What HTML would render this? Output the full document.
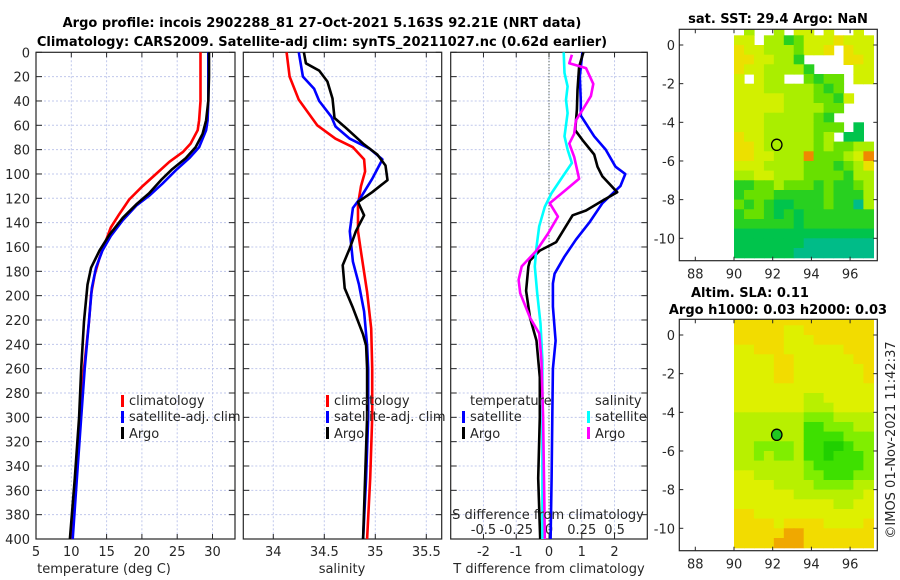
<!DOCTYPE html>
<html><head><meta charset="utf-8">
<style>
html,body{margin:0;padding:0;background:#fff;}
svg{display:block;font-family:"DejaVu Sans","Liberation Sans",sans-serif;}
.t{fill:#262626;font-size:13px;}
.b{font-weight:bold;fill:#000;font-size:13px;}
</style></head>
<body>
<svg id="chart" width="900" height="580" viewBox="0 0 900 580" xmlns="http://www.w3.org/2000/svg">
<text class="b" x="322" y="27" text-anchor="middle">Argo profile: incois 2902288_81 27-Oct-2021 5.163S 92.21E (NRT data)</text>
<text class="b" x="322" y="46" text-anchor="middle">Climatology: CARS2009. Satellite-adj clim: synTS_20211027.nc (0.62d earlier)</text>
<g id="p1"></g>
<g id="p2"></g>
<g id="p3"></g>
<g id="m1"></g>
<g id="m2"></g>
<text class="t" x="104" y="573" text-anchor="middle">temperature (deg C)</text>
<text class="t" x="342" y="573" text-anchor="middle">salinity</text>
<text class="t" x="549" y="573" text-anchor="middle">T difference from climatology</text>
<text class="t" x="548" y="519" text-anchor="middle">S difference from climatology</text>
<text class="b" x="778" y="23" text-anchor="middle">sat. SST: 29.4 Argo: NaN</text>
<text class="b" x="691" y="297">Altim. SLA: 0.11</text>
<text class="b" x="778" y="314" text-anchor="middle">Argo h1000: 0.03 h2000: 0.03</text>
<text class="t" x="0" y="0" transform="translate(895,440) rotate(-90)" text-anchor="middle">©IMOS 01-Nov-2021 11:42:37</text>
<g>
<rect x="121" y="395" width="3" height="12" fill="#f00"/>
<text class="t" x="129" y="405">climatology</text>
<rect x="121" y="411" width="3" height="12" fill="#00f"/>
<text class="t" x="129" y="421">satellite-adj. clim</text>
<rect x="121" y="427" width="3" height="12" fill="#000"/>
<text class="t" x="129" y="438">Argo</text>
</g>
<g>
<rect x="326" y="395" width="3" height="12" fill="#f00"/>
<text class="t" x="334" y="405">climatology</text>
<rect x="326" y="411" width="3" height="12" fill="#00f"/>
<text class="t" x="334" y="421">satellite-adj. clim</text>
<rect x="326" y="427" width="3" height="12" fill="#000"/>
<text class="t" x="334" y="438">Argo</text>
</g>
<g>
<text class="t" x="470" y="405">temperature</text>
<rect x="462" y="411" width="3" height="12" fill="#00f"/>
<text class="t" x="470" y="421">satellite</text>
<rect x="462" y="427" width="3" height="12" fill="#000"/>
<text class="t" x="470" y="438">Argo</text>
<text class="t" x="595" y="405">salinity</text>
<rect x="587" y="411" width="3" height="12" fill="#0ff"/>
<text class="t" x="595" y="421">satellite</text>
<rect x="587" y="427" width="3" height="12" fill="#f0f"/>
<text class="t" x="595" y="438">Argo</text>
</g>
</svg>
<script>
// ---------- data ----------
const depthTicks = [0,20,40,60,80,100,120,140,160,180,200,220,240,260,280,300,320,340,360,380,400];
const tempTicks = [5,10,15,20,25,30,35];
const salTicks = [34,34.5,35,35.5];
const dTTicks = [-2,-1,0,1,2];
const dSTicks = [-0.5,-0.25,0,0.25,0.5];
const dSTickLabels = ["-0.5","-0.25","0","0.25","0.5"];

const tClimDepth = [0,20,40,56,64,75,82,90,100,110,121,133,144,158,169,183,199,221,260,300,350,400];
const tClimVal   = [28.3,28.3,28.3,28.1,27.9,26.9,25.8,23.9,22.0,20.1,18.2,16.8,15.6,14.7,14.0,13.3,12.8,12.5,11.8,11.2,10.6,10.0];
const tSatDepth  = [0,20,40,56,64,78,87,97,108,118,126,138,151,163,177,194,221,260,300,350,400];
const tSatVal    = [29.4,29.4,29.4,29.3,29.1,28.1,26.7,24.8,22.9,21.0,19.2,17.3,15.6,14.4,13.5,12.9,12.5,11.9,11.4,10.8,10.2];
const tArgoDepth = [0,20,40,56,67,78,87,96,105,116,125,136,150,163,177,191,221,260,300,350,400];
const tArgoVal   = [29.5,29.5,29.4,29.1,28.6,27.6,26.2,24.3,22.7,21.0,19.2,17.3,15.4,14.0,12.8,12.3,11.8,11.4,11.1,10.5,9.8];

const sClimDepth = [0,20,39,60,71,78,88,98,110,125,147,164,197,227,260,300,350,400];
const sClimVal   = [34.13,34.16,34.25,34.43,34.61,34.78,34.89,34.90,34.86,34.83,34.83,34.86,34.92,34.96,34.97,34.97,34.95,34.92];
const sSatDepth  = [0,20,30,40,53,61,71,79,88,104,119,128,147,172,191,213,241,260,300,350,400];
const sSatVal    = [34.25,34.29,34.40,34.45,34.57,34.61,34.75,34.94,35.07,34.97,34.86,34.78,34.75,34.78,34.84,34.89,34.92,34.93,34.93,34.91,34.88];
const sArgoDepth = [0,9,15,24,38,54,62,75,84,93,105,115,123,134,147,161,175,194,210,232,241,260,300,350,400];
const sArgoVal   = [34.30,34.32,34.45,34.53,34.58,34.60,34.71,34.88,35.02,35.10,35.12,34.97,34.83,34.89,34.81,34.75,34.68,34.70,34.78,34.88,34.91,34.92,34.92,34.90,34.88];

const dTSatDepth  = [0,20,40,52,69,80,94,100,110,124,140,154,168,182,190,209,237,260,300,350,400];
const dTSatVal    = [1.02,0.94,0.97,0.97,1.38,1.73,2.03,2.33,2.18,1.63,1.23,0.82,0.47,0.17,0.12,0.12,0.2,0.12,0.1,0.08,0.05];
const dTArgoDepth = [0,12,31,47,64,72,84,94,102,115,122,130,134,156,163,171,176,196,218,237,267,300,350,400];
const dTArgoVal   = [1.05,0.92,0.87,0.85,0.8,1.02,1.38,1.48,1.63,2.08,1.63,1.13,0.72,0.22,-0.28,-0.58,-0.63,-0.7,-0.58,-0.38,-0.28,-0.28,-0.33,-0.27];
const dSSatDepth  = [0,17,28,39,50,69,80,91,102,116,127,143,160,176,198,223,253,300,350,400];
const dSSatVal    = [0.112,0.118,0.142,0.13,0.142,0.118,0.142,0.175,0.105,0.018,-0.032,-0.075,-0.095,-0.108,-0.09,-0.065,-0.05,-0.05,-0.05,-0.05];
const dSArgoDepth = [2,9,13,26,36,47,56,67,75,86,104,113,124,135,149,163,176,187,198,218,231,253,300,350,400];
const dSArgoVal   = [0.175,0.155,0.282,0.338,0.32,0.258,0.205,0.192,0.155,0.192,0.23,0.13,0.005,0.068,-0.008,-0.095,-0.208,-0.232,-0.22,-0.145,-0.075,-0.058,-0.045,-0.038,-0.032];

const mapLonTicks = [88,90,92,94,96];
const mapLatTicks = [0,-2,-4,-6,-8,-10];
const argoLon = 92.21, argoLat = -5.163;
const sstRows = [
".5..5.66.6..6.",
"66.55346667666",
"7665554667.766",
"7766553....776",
"76655553....66",
"6.655..4344.66",
"66655555434...",
"666665554436..",
"66666555544...",
"6665555543....",
"66655555444.2.",
"7665555545.22.",
"77655555454455",
"77665558444568",
"66655554443457",
"55665554444355",
"33445444343345",
"34443333343335",
"43432233343315",
"34432323333333",
"33333323333333",
"22222222222222",
"22222221111111",
"22222211111111"];
const slaRows = [
"77777777777777",
"77777667777777",
"77777666777777",
"66777666666777",
"66667766666677",
"66667766666667",
"66667766666667",
"66666666666666",
"66666665566666",
"66666665556666",
"55555554445555",
"55555553344455",
"55555553333444",
"55444453322344",
"55454453323334",
"55555554333334",
"66555554433344",
"66665555444455",
"66666655555556",
"66666666665566",
"77666666666666",
"77776777766667",
"77777887777777",
"77778887777777"];

// ---------- rendering ----------
const NS = "http://www.w3.org/2000/svg";
function mk(tag, attrs, parent){ const e=document.createElementNS(NS,tag); for(const k in attrs) e.setAttribute(k,attrs[k]); parent.appendChild(e); return e; }
const Y0 = 52.3, Y1 = 539;
function yD(d){ return Y0 + (d/400)*(Y1-Y0); }
function scaleX(x0,x1,v0,v1){ return v => x0 + (v-v0)/(v1-v0)*(x1-x0); }

const panels = [
 {id:"p1", x0:36, x1:235, v0:5, v1:5+199/7.06, ticks:tempTicks, labels:tempTicks.map(String), showY:true},
 {id:"p2", x0:243.3, x1:441.7, v0:33.706, v1:35.651, ticks:salTicks, labels:salTicks.map(String), showY:false},
 {id:"p3", x0:450.7, x1:647.3, v0:-3, v1:3, ticks:dTTicks, labels:dTTicks.map(String), showY:false}
];
panels.forEach(p=>{
  const g = document.getElementById(p.id);
  const sx = scaleX(p.x0,p.x1,p.v0,p.v1); p.sx = sx;
  p.ticks.forEach((v,i)=>{
    const x = sx(v);
    if (x < p.x0-0.5 || x > p.x1+0.5) return;
    if (x>p.x0+1 && x<p.x1-1) {
      const gl = mk("line",{x1:x,x2:x,y1:Y0,y2:Y1,stroke:"#c0c8ec","stroke-width":1,"stroke-dasharray":"2,2"},g);
      
      
    }
    const tb = mk("line",{x1:x,x2:x,y1:Y1,y2:Y1-5,stroke:"#262626"},g);
    
    
    const tt = mk("line",{x1:x,x2:x,y1:Y0,y2:Y0+5,stroke:"#262626"},g);
    
    
    const lb = mk("text",{x:x,y:556,"text-anchor":"middle",class:"t"},g);
    lb.textContent = p.labels[i];
    
    
  });
  depthTicks.forEach(d=>{
    const y = yD(d);
    if (d>0 && d<400) {
      const gl = mk("line",{x1:p.x0,x2:p.x1,y1:y,y2:y,stroke:"#c0c8ec","stroke-width":1,"stroke-dasharray":"2,2"},g);
      
      
    }
    const tl = mk("line",{x1:p.x0,x2:p.x0+6,y1:y,y2:y,stroke:"#262626"},g);
    
    
    const tr = mk("line",{x1:p.x1,x2:p.x1-6,y1:y,y2:y,stroke:"#262626"},g);
    
    
    if (p.showY) {
      const lb = mk("text",{x:30,y:y+5,"text-anchor":"end",class:"t"},g);
      lb.textContent = String(d);
      
      
    }
  });
  const fr = mk("rect",{x:p.x0,y:Y0,width:p.x1-p.x0,height:Y1-Y0,fill:"none",stroke:"#262626","stroke-width":1.2},g);
  
  
});

function series(panel, depths, vals, color, name, mult){
  const p = panels[panel];
  const g = document.getElementById(p.id);
  const pts = depths.map((d,i)=> p.sx(vals[i]*(mult||1)).toFixed(1)+","+yD(d).toFixed(1)).join(" ");
  const l = mk("polyline",{points:pts,fill:"none",stroke:color,"stroke-width":2.6,"stroke-linejoin":"round"},g);
  
  
}
(function(){
  const p = panels[2], g = document.getElementById(p.id);
  const x = p.sx(0);
  const z = mk("line",{x1:x,x2:x,y1:Y0,y2:Y1,stroke:"#304030","stroke-width":1,"stroke-dasharray":"1,2"},g);
  
  
  dSTicks.forEach((s,i)=>{
    const lb = mk("text",{x:p.sx(s*4),y:534,"text-anchor":"middle",class:"t"},g);
    lb.textContent = dSTickLabels[i];
    
    
  });
})();
series(0,tClimDepth,tClimVal,"#f00","temp-climatology-line");
series(0,tSatDepth,tSatVal,"#00f","temp-satellite-line");
series(0,tArgoDepth,tArgoVal,"#000","temp-argo-line");
series(1,sClimDepth,sClimVal,"#f00","sal-climatology-line");
series(1,sSatDepth,sSatVal,"#00f","sal-satellite-line");
series(1,sArgoDepth,sArgoVal,"#000","sal-argo-line");
series(2,dTSatDepth,dTSatVal,"#00f","t-diff-satellite-line");
series(2,dTArgoDepth,dTArgoVal,"#000","t-diff-argo-line");
series(2,dSSatDepth,dSSatVal,"#0ff","s-diff-satellite-line",4);
series(2,dSArgoDepth,dSArgoVal,"#f0f","s-diff-argo-line",4);

const sstColors = {"1":"#00bc88","2":"#00c44c","3":"#28d020","4":"#68e000","5":"#aaee00","6":"#d2f000","7":"#ece000","8":"#f08800"};
const slaColors = {"2":"#20d000","3":"#3ee000","4":"#80ee00","5":"#b8f000","6":"#def000","7":"#f2dc00","8":"#f0a800"};
function drawMap(id, top, zeroY, rows, colors, filledMarker, clipId){
  const g = document.getElementById(id);
  const X0 = 679.3, X1 = 877.3, bottom = top + 231.4;
  const lonX = lon => 734 + (lon-90)*19.35;
  const latY = lat => zeroY - lat*19.33;
  const defs = mk("defs",{},g);
  const cp = mk("clipPath",{id:clipId},defs);
  mk("rect",{x:X0,y:top,width:X1-X0,height:bottom-top},cp);
  const cells = mk("g",{"clip-path":"url(#"+clipId+")"},g);
  
  
  const lonStep = 7.2/14, latStep = 0.5;
  rows.forEach((row,r)=>{
    for (let c=0;c<row.length;c++){
      const ch = row[c];
      if (ch===".") continue;
      const xa = lonX(90+c*lonStep), xb = lonX(90+(c+1)*lonStep);
      const ya = latY(1-r*latStep), yb = latY(1-(r+1)*latStep);
      const cell = mk("rect",{x:xa.toFixed(1),y:ya.toFixed(1),width:(xb-xa+0.6).toFixed(1),height:(yb-ya+0.6).toFixed(1),fill:colors[ch]},cells);
      
      
    }
  });
  const fr = mk("rect",{x:X0,y:top,width:X1-X0,height:bottom-top,fill:"none",stroke:"#262626","stroke-width":1.2},g);
  
  
  mapLonTicks.forEach(lon=>{
    const x = lonX(lon);
    const t1 = mk("line",{x1:x,x2:x,y1:bottom,y2:bottom-4,stroke:"#262626"},g);
    
    
    const t2 = mk("line",{x1:x,x2:x,y1:top,y2:top+4,stroke:"#262626"},g);
    
    
    const lb = mk("text",{x:x,y:bottom+18,"text-anchor":"middle",class:"t"},g);
    lb.textContent = String(lon);
    
    
  });
  mapLatTicks.forEach(lat=>{
    const y = latY(lat);
    const t1 = mk("line",{x1:X0,x2:X0+4,y1:y,y2:y,stroke:"#262626"},g);
    
    
    const t2 = mk("line",{x1:X1,x2:X1-4,y1:y,y2:y,stroke:"#262626"},g);
    
    
    const lb = mk("text",{x:675,y:y+5,"text-anchor":"end",class:"t"},g);
    lb.textContent = String(lat);
    
    
  });
  const m = mk("ellipse",{cx:lonX(argoLon),cy:latY(argoLat),rx:5.2,ry:5.6,fill:filledMarker?"#20c820":"none",stroke:"#000","stroke-width":1.3},g);
  
  
}
drawMap("m1", 29.3, 45, sstRows, sstColors, false, "clipSST");
drawMap("m2", 319.3, 335, slaRows, slaColors, true, "clipSLA");
</script>
</body></html>
